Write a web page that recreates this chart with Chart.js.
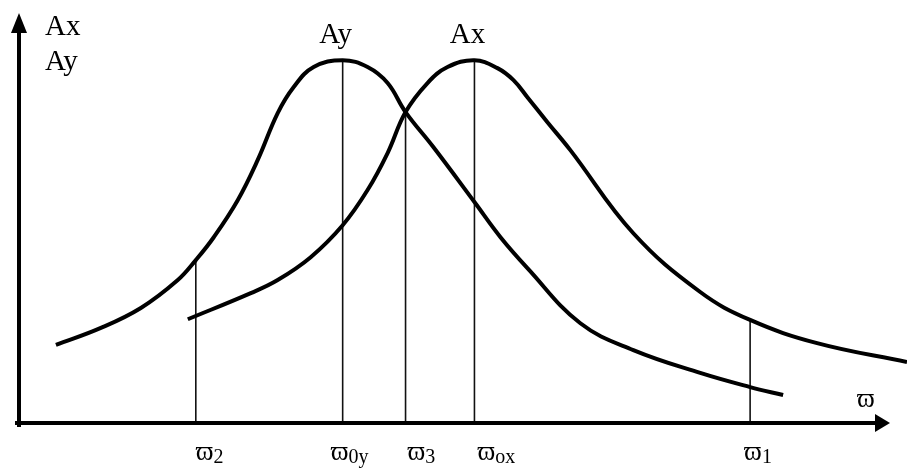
<!DOCTYPE html>
<html>
<head>
<meta charset="utf-8">
<script src="https://cdn.jsdelivr.net/npm/chart.js@4"></script>
<style>
  html, body { margin: 0; padding: 0; background: #fff; }
  #wrap { width: 907px; height: 468px; position: relative; }
</style>
</head>
<body>
<div id="wrap"><canvas id="c"></canvas></div>
<script>
// ---- data (arbitrary units: frequency ϖ on x, amplitude on y, peak = 100) ----
const ayX = [4.24, 9.40, 13.99, 18.23, 20.30, 22.36, 25.11, 27.41, 29.70, 31.54, 33.83, 37.16, 40.02, 42.32, 44.38, 47.59, 52.29, 55.28, 58.37, 64.45, 70.53, 78.21, 83.94, 87.73];
const ayY = [21.5, 26.2, 31.7, 39.4, 44.9, 51.2, 61.4, 72.5, 85.4, 92.6, 98.1, 100, 98.1, 93.7, 85.7, 76.0, 60.9, 51.2, 42.7, 27.5, 20.1, 13.8, 9.9, 7.7];

const axX = [19.38, 26.61, 29.70, 33.49, 37.16, 40.02, 42.32, 44.38, 46.90, 49.20, 52.29, 54.93, 56.77, 58.37, 60.67, 63.30, 70.53, 78.21, 83.94, 91.63, 101.95];
const axY = [28.6, 35.8, 39.4, 45.7, 54.5, 64.2, 74.4, 85.7, 93.7, 98.1, 100, 97.8, 94.5, 89.8, 82.9, 75.2, 52.3, 36.1, 28.4, 22.0, 16.8];

// marker frequencies and heights where the vertical lines end
const markX   = [20.30, 37.16, 44.38, 52.29, 83.94];
const markTop = [44.9, 100, 85.7, 100, 28.4];
const markBase = ['ϖ', 'ϖ', 'ϖ', 'ϖ', 'ϖ'];
const markSub  = ['2', '0y', '3', 'ox', '1'];

// curve labels
const curveNames = ['Ay', 'Ax'];
const curvePeakX = [37.16, 52.29];
const yAxisTitle = ['Ax', 'Ay'];
const xAxisTitle = 'ϖ';

// ---- styling (kept apart from data) ----
const SERIF = '"Liberation Serif", "DejaVu Serif", "Times New Roman", serif';
const labelOffsets = [0, -12, 2, 3, -6];

const pts = (xs, ys) => xs.map((x, i) => ({ x, y: ys[i] }));

const datasets = [
  { data: pts(ayX, ayY), borderColor: '#000', borderWidth: 4, pointRadius: 0, tension: 0.4, fill: false },
  { data: pts(axX, axY), borderColor: '#000', borderWidth: 4, pointRadius: 0, tension: 0.4, fill: false, clip: false },
  ...markX.map((x, i) => ({
    data: [{ x, y: 0 }, { x, y: markTop[i] }],
    borderColor: '#111', borderWidth: 1.6, pointRadius: 0, fill: false, tension: 0
  }))
];

function drawSub(ctx, base, sub, x, y, size, subSize, dy) {
  ctx.font = size + 'px ' + SERIF;
  ctx.fillText(base, x, y);
  const w = ctx.measureText(base).width;
  ctx.font = subSize + 'px ' + SERIF;
  ctx.fillText(sub, x + w, y + dy);
}

const decor = {
  id: 'decor',
  afterDatasetsDraw(chart) {
    const ctx = chart.ctx;
    const xs = chart.scales.x, ys = chart.scales.y;
    const x0 = xs.getPixelForValue(0), y0 = ys.getPixelForValue(0);
    const xEnd = xs.getPixelForValue(100);
    const yTop = chart.chartArea.top;
    ctx.save();
    ctx.fillStyle = '#000';
    ctx.strokeStyle = '#000';
    ctx.lineWidth = 4;
    ctx.lineCap = 'butt';
    // x axis
    ctx.beginPath();
    ctx.moveTo(x0 - 4, y0); ctx.lineTo(xEnd - 12, y0); ctx.stroke();
    ctx.beginPath();
    ctx.moveTo(xEnd, y0); ctx.lineTo(xEnd - 15, y0 - 9); ctx.lineTo(xEnd - 15, y0 + 9); ctx.closePath(); ctx.fill();
    // y axis
    ctx.beginPath();
    ctx.moveTo(x0, y0 + 4); ctx.lineTo(x0, yTop + 16); ctx.stroke();
    ctx.beginPath();
    ctx.moveTo(x0, yTop); ctx.lineTo(x0 - 8, yTop + 20); ctx.lineTo(x0 + 8, yTop + 20); ctx.closePath(); ctx.fill();

    ctx.textBaseline = 'alphabetic';
    ctx.textAlign = 'left';
    // y axis title
    ctx.font = '29px ' + SERIF;
    ctx.fillText(yAxisTitle[0], 45, 35);
    ctx.fillText(yAxisTitle[1], 45, 70);
    // curve peak labels
    curveNames.forEach((t, i) => {
      const px = xs.getPixelForValue(curvePeakX[i]);
      ctx.font = '29px ' + SERIF;
      ctx.textAlign = 'center';
      ctx.fillText(t, px - 7, 43);
    });
    ctx.textAlign = 'left';
    // x axis title
    ctx.font = '27px ' + SERIF;
    ctx.fillText(xAxisTitle, 857, 407);
    // marker labels
    markX.forEach((v, i) => {
      const px = xs.getPixelForValue(v);
      drawSub(ctx, markBase[i], markSub[i], px + labelOffsets[i], 460, 27, 20, 3);
    });
    ctx.restore();
  }
};

new Chart(document.getElementById('c'), {
  type: 'line',
  data: { datasets },
  options: {
    responsive: true,
    maintainAspectRatio: false,
    animation: false,
    events: [],
    layout: { padding: { left: 19, right: 17, top: 13, bottom: 45 } },
    plugins: { legend: { display: false }, tooltip: { enabled: false } },
    scales: {
      x: { type: 'linear', min: 0, max: 100, display: false },
      y: { type: 'linear', min: 0, max: 113, display: false }
    }
  },
  plugins: [decor]
});
</script>
</body>
</html>
